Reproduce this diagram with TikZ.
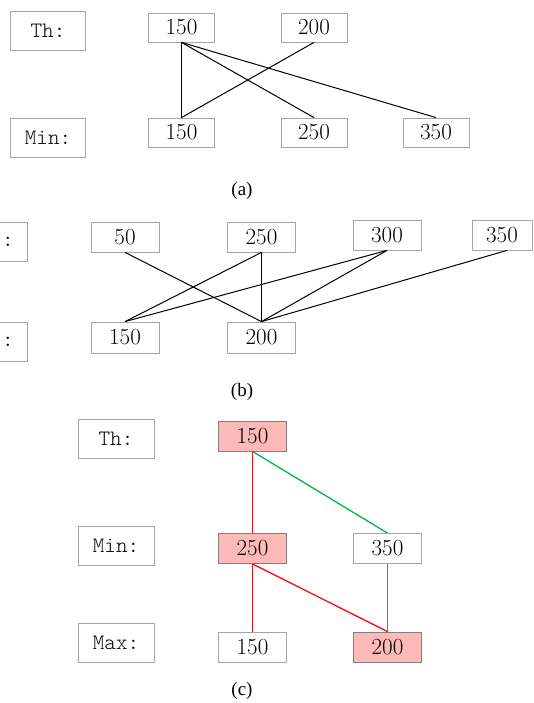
\documentclass[tikz,border=0pt]{standalone}
\usepackage{fontspec}
\newfontfamily\capfont{Liberation Serif}
\newfontfamily\labfont{lmmonolt10-regular.otf}
\definecolor{boxgray}{HTML}{A6A6A6}
\definecolor{pinkfill}{HTML}{FFB9B9}
\definecolor{lnred}{HTML}{F01010}
\definecolor{lngreen}{HTML}{00B84A}
\begin{document}
\begin{tikzpicture}[x=1pt,y=-1pt,
  numbox/.style={draw=boxgray, line width=0.8pt, minimum width=68pt, minimum height=30pt, inner sep=0pt, font=\fontsize{23}{26}\selectfont},
  labbox/.style={draw=boxgray, line width=0.8pt, minimum width=75pt, minimum height=39pt, inner sep=0pt, font=\labfont\fontsize{22}{25}\selectfont},
  hot/.style={fill=pinkfill, draw=gray},
  captxt/.style={font=\capfont\fontsize{19}{22}\selectfont},
  link/.style={line width=1pt, black},
  rlink/.style={line width=1.3pt, lnred},
  glink/.style={line width=1.3pt, lngreen}]
\useasboundingbox (0,0) rectangle (534,703);
\clip (0,0) rectangle (534,703);
% (a)
\node[labbox] (thA) at (48,31) {Th:};
\node[labbox] (minA) at (48,137.5) {Min:};
\node[numbox, minimum width=66pt, minimum height=29pt] (a150t) at (181.5,27.5) {150};
\node[numbox, minimum width=66pt, minimum height=29pt] (a200) at (314,27.5) {200};
\node[numbox, minimum width=66pt, minimum height=29pt] (a150b) at (181.5,132.5) {150};
\node[numbox, minimum width=66pt, minimum height=29pt] (a250) at (314,132.5) {250};
\node[numbox, minimum width=66pt, minimum height=29pt] (a350) at (436,132.5) {350};
\draw[link] (a150t.south) -- (a150b.north);
\draw[link] (a150t.south) -- (a250.north);
\draw[link] (a150t.south) -- (a350.north);
\draw[link] (a200.south) -- (a150b.north);
\node[captxt] (capA) at (242,191) {(a)};
% (b)
\node[labbox] (thB) at (-10,241.5) {};
\node[font=\labfont\fontsize{22}{25}\selectfont, inner sep=0pt] (thBc) at (8,241.5) {:};
\node[labbox] (minB) at (-10,341.5) {};
\node[font=\labfont\fontsize{22}{25}\selectfont, inner sep=0pt] (minBc) at (8,341.5) {:};
\node[numbox] (b50) at (125,237) {50};
\node[numbox] (b250) at (261.5,237) {250};
\node[numbox] (b300) at (387,235) {300};
\node[numbox, minimum width=60pt] (b350) at (502,235) {350};
\node[numbox, minimum height=31pt] (b150) at (125,337.5) {150};
\node[numbox, minimum height=31pt] (b200) at (261.5,337.5) {200};
\draw[link] (b50.south) -- (b200.north);
\draw[link] (b250.south) -- (b150.north);
\draw[link] (b250.south) -- (b200.north);
\draw[link] (b300.south) -- (b150.north);
\draw[link] (b300.south) -- (b200.north);
\draw[link] ([xshift=5pt]b350.south) -- (b200.north);
\node[captxt] (capB) at (242,392) {(b)};
% (c)
\node[labbox, minimum width=76pt] (thC) at (116,438.5) {Th:};
\node[labbox, minimum width=76pt] (minC) at (116,545.5) {Min:};
\node[labbox, minimum width=76pt] (maxC) at (116,642.5) {Max:};
\node[numbox, hot] (c150t) at (252.5,436) {150};
\node[numbox, hot] (c250) at (252.5,548.5) {250};
\node[numbox] (c350) at (387.5,548.5) {350};
\node[numbox] (c150b) at (252.5,647) {150};
\node[numbox, hot] (c200) at (387.5,647) {200};
\draw[rlink] (c150t.south) -- (c250.north);
\draw[glink] (c150t.south) -- (c350.north);
\draw[rlink] (c250.south) -- (c150b.north);
\draw[rlink] (c250.south) -- (c200.north);
\draw[glink, line width=1.6pt] (c350.south) -- (c200.north);
\node[captxt] (capC) at (242,691) {(c)};
\end{tikzpicture}
\end{document}
